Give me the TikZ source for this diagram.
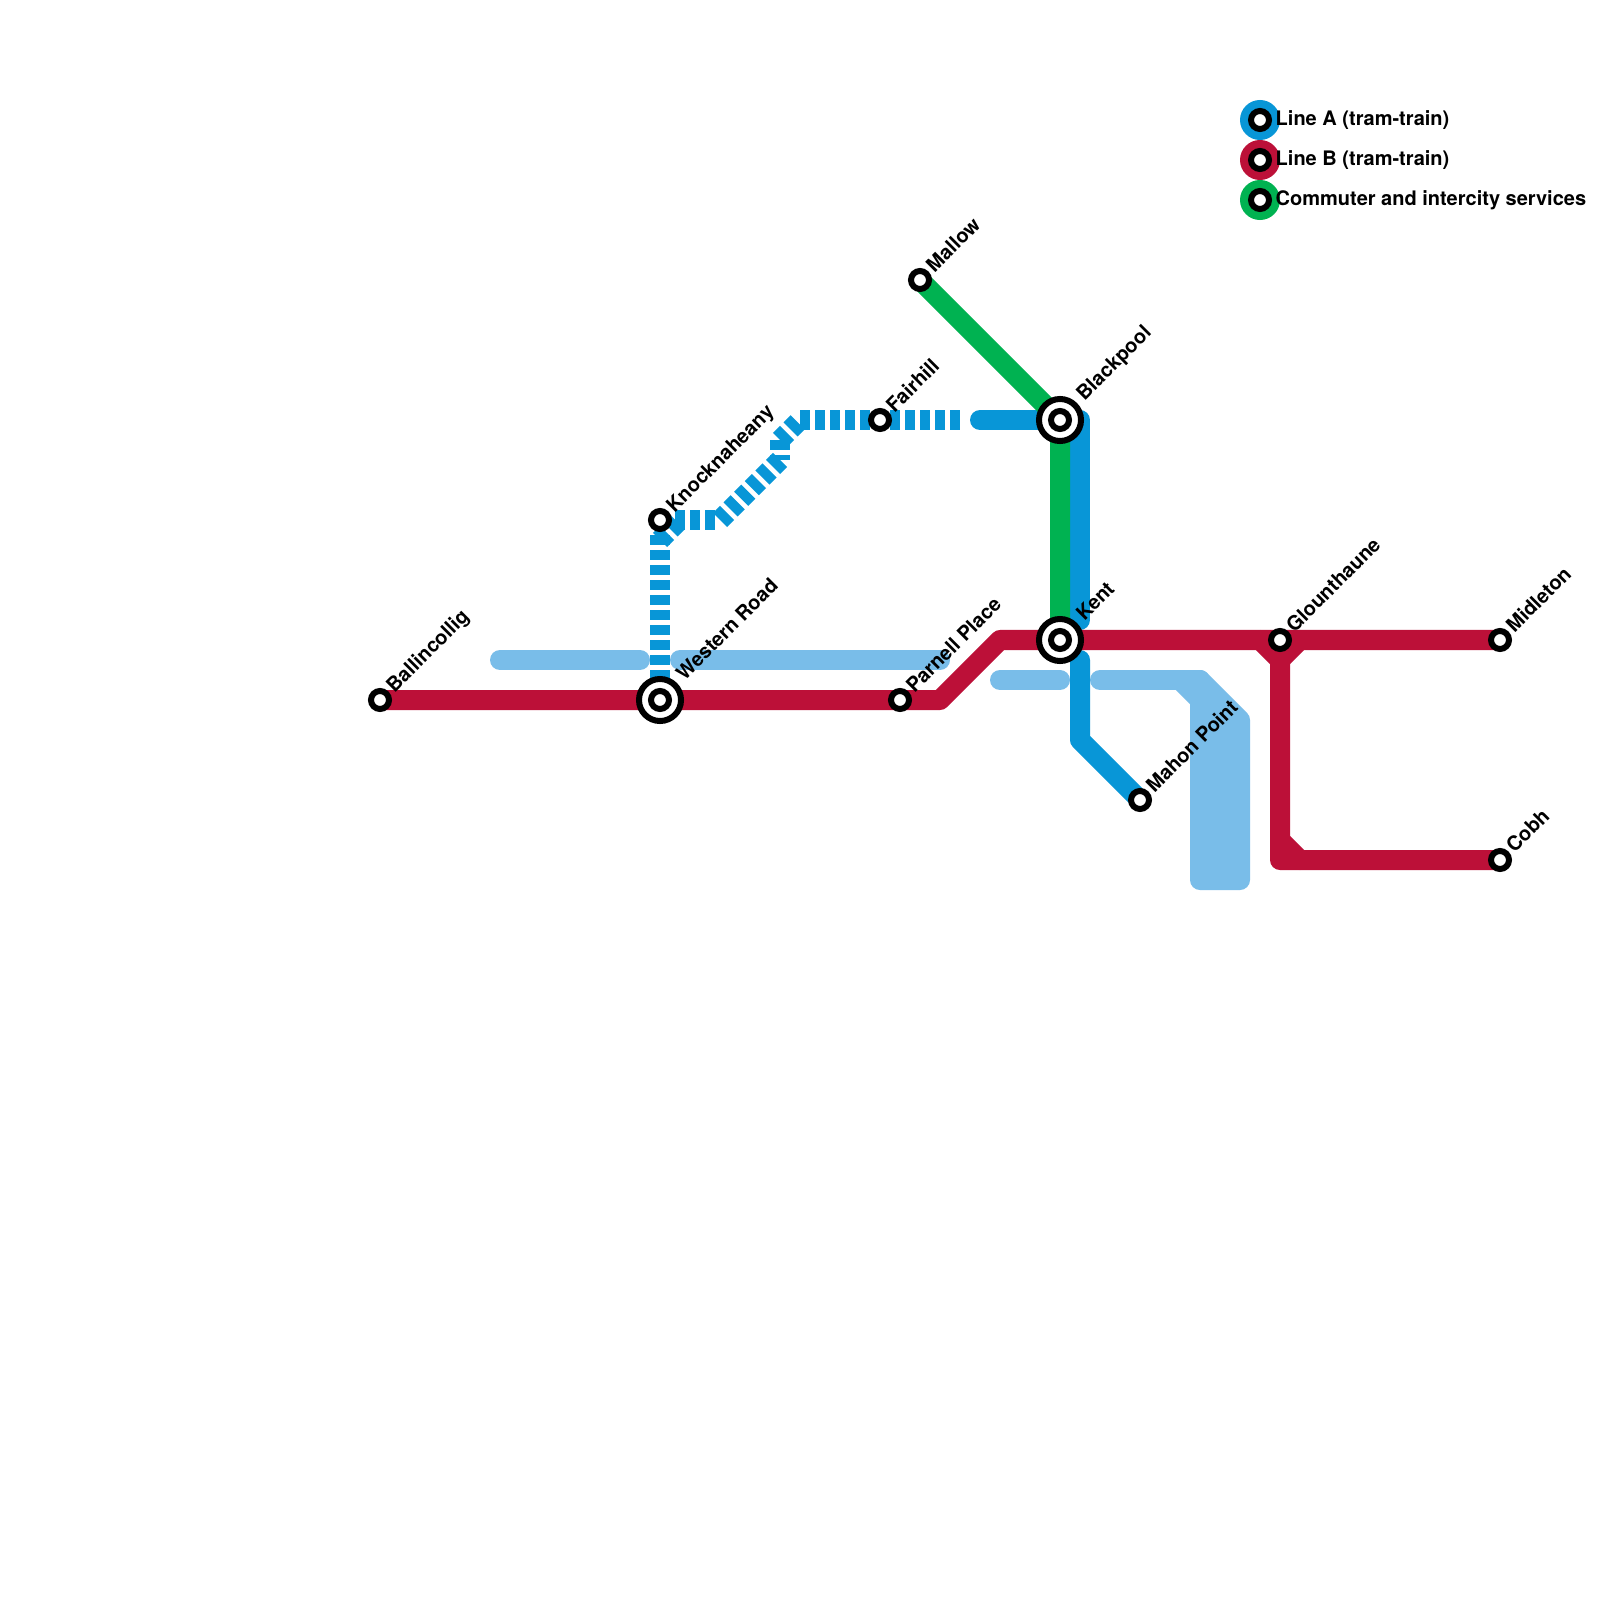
\documentclass[tikz,border=0pt]{standalone}
\usepackage{fontspec}
\setmainfont{TeX Gyre Heros}
\definecolor{lineA}{HTML}{0896D7}
\definecolor{lineB}{HTML}{BC1038}
\definecolor{lineC}{HTML}{00B251}
\definecolor{river}{HTML}{79BDE9}
\tikzset{
  x=0.01cm,y=-0.01cm,
  track/.style={line width=0.2cm,line join=round,line cap=round},
  dashtrack/.style={line width=0.2cm,line join=miter,line cap=butt,lineA,dash pattern=on 0.1cm off 0.05cm},
  stn/.style={circle,draw=black,fill=white,line width=0.06cm,minimum size=0.18cm,inner sep=0pt,outer sep=0pt},
  hub/.style={circle,draw=black,fill=white,line width=0.06cm,minimum size=0.42cm,inner sep=0pt,outer sep=0pt},
  lab/.style={rotate=45,anchor=base west,font=\bfseries\fontsize{5.69}{6}\selectfont,inner sep=0pt,text=black},
  leg/.style={anchor=base west,font=\bfseries\fontsize{5.69}{6}\selectfont,inner sep=0pt,text=black},
  legdot/.style={circle,minimum size=0.4cm,inner sep=0pt}
}
\begin{document}
\begin{tikzpicture}
\useasboundingbox (0,0) rectangle (1600,1600);
\fill[white] (0,0) rectangle (1600,1600);
% water
\draw[track,river] (500,660) -- (640,660);
\draw[track,river] (680,660) -- (940,660);
\draw[track,river] (1000,680) -- (1060,680);
\draw[track,river] (1100,680) -- (1200,680);
\draw[track,river] (1180,680) -- (1200,700);
\filldraw[track,river] (1200,680) -- (1240,720) -- (1240,880) -- (1200,880) -- cycle;
% station positions
\coordinate (ballP) at (380,700);
\coordinate (westP) at (660,700);
\coordinate (parnP) at (900,700);
\coordinate (fairP) at (880,420);
\coordinate (knocP) at (660,520);
\coordinate (mallP) at (920,280);
\coordinate (blakP) at (1060,420);
\coordinate (kentP) at (1060,640);
\coordinate (mahoP) at (1140,800);
\coordinate (glouP) at (1280,640);
\coordinate (midlP) at (1500,640);
\coordinate (cobhP) at (1500,860);
% dashed line A
\draw[dashtrack] (660,535) -- (westP);
\draw[dashtrack] (660,540) -- (680,520);
\draw[dashtrack] (675,520) -- (720,520);
\draw[dashtrack] (720,520) -- (780,460);
\draw[dashtrack] (780,440) -- (780,460);
\draw[dashtrack] (780,440) -- (800,420);
\draw[dashtrack] (800,420) -- (960,420);
% solid line A
\draw[track,lineA] (980,420) -- (1080,420) -- (1080,620);
\draw[track,lineA] (1080,660) -- (1080,740) -- (mahoP);
% line C
\draw[track,lineC] (mallP) -- (blakP) -- (kentP);
% line B
\draw[track,lineB] (ballP) -- (940,700) -- (1000,640) -- (midlP);
\draw[track,lineB] (1260,640) -- (1280,660) -- (1280,860) -- (cobhP);
\draw[track,lineB] (1300,640) -- (1280,660);
\draw[track,lineB] (1280,840) -- (1300,860);
% interchanges
\node[hub] (westO) at (westP) {};
\node[hub] (blakO) at (blakP) {};
\node[hub] (kentO) at (kentP) {};
% stations
\node[stn] (ball) at (ballP) {};
\node[stn] (west) at (westP) {};
\node[stn] (parn) at (parnP) {};
\node[stn] (fair) at (fairP) {};
\node[stn] (knoc) at (knocP) {};
\node[stn] (mall) at (mallP) {};
\node[stn] (blak) at (blakP) {};
\node[stn] (kent) at (kentP) {};
\node[stn] (maho) at (mahoP) {};
\node[stn] (glou) at (glouP) {};
\node[stn] (midl) at (midlP) {};
\node[stn] (cobh) at (cobhP) {};
% labels
\node[lab] (t1) at (394,694) {Ballincollig};
\node[lab] (t2) at (684,682) {Western Road};
\node[lab] (t3) at (914,694) {Parnell Place};
\node[lab] (t4) at (894,414) {Fairhill};
\node[lab] (t5) at (674,514) {Knocknaheany};
\node[lab] (t6) at (934,274) {Mallow};
\node[lab] (t7) at (1084,402) {Blackpool};
\node[lab] (t8) at (1084,622) {Kent};
\node[lab] (t9) at (1154,794) {Mahon Point};
\node[lab] (t10) at (1294,634) {Glounthaune};
\node[lab] (t11) at (1514,634) {Midleton};
\node[lab] (t12) at (1514,854) {Cobh};
% legend
\node[legdot,fill=lineA] (la) at (1260,120) {};
\node[legdot,fill=lineB] (lb) at (1260,160) {};
\node[legdot,fill=lineC] (lc) at (1260,200) {};
\node[stn] (lsa) at (1260,120) {};
\node[stn] (lsb) at (1260,160) {};
\node[stn] (lsc) at (1260,200) {};
\node[leg] (ta) at (1275,125.5) {Line A (tram-train)};
\node[leg] (tb) at (1275,165.5) {Line B (tram-train)};
\node[leg] (tc) at (1275,205.5) {Commuter and intercity services};
\end{tikzpicture}
\end{document}
